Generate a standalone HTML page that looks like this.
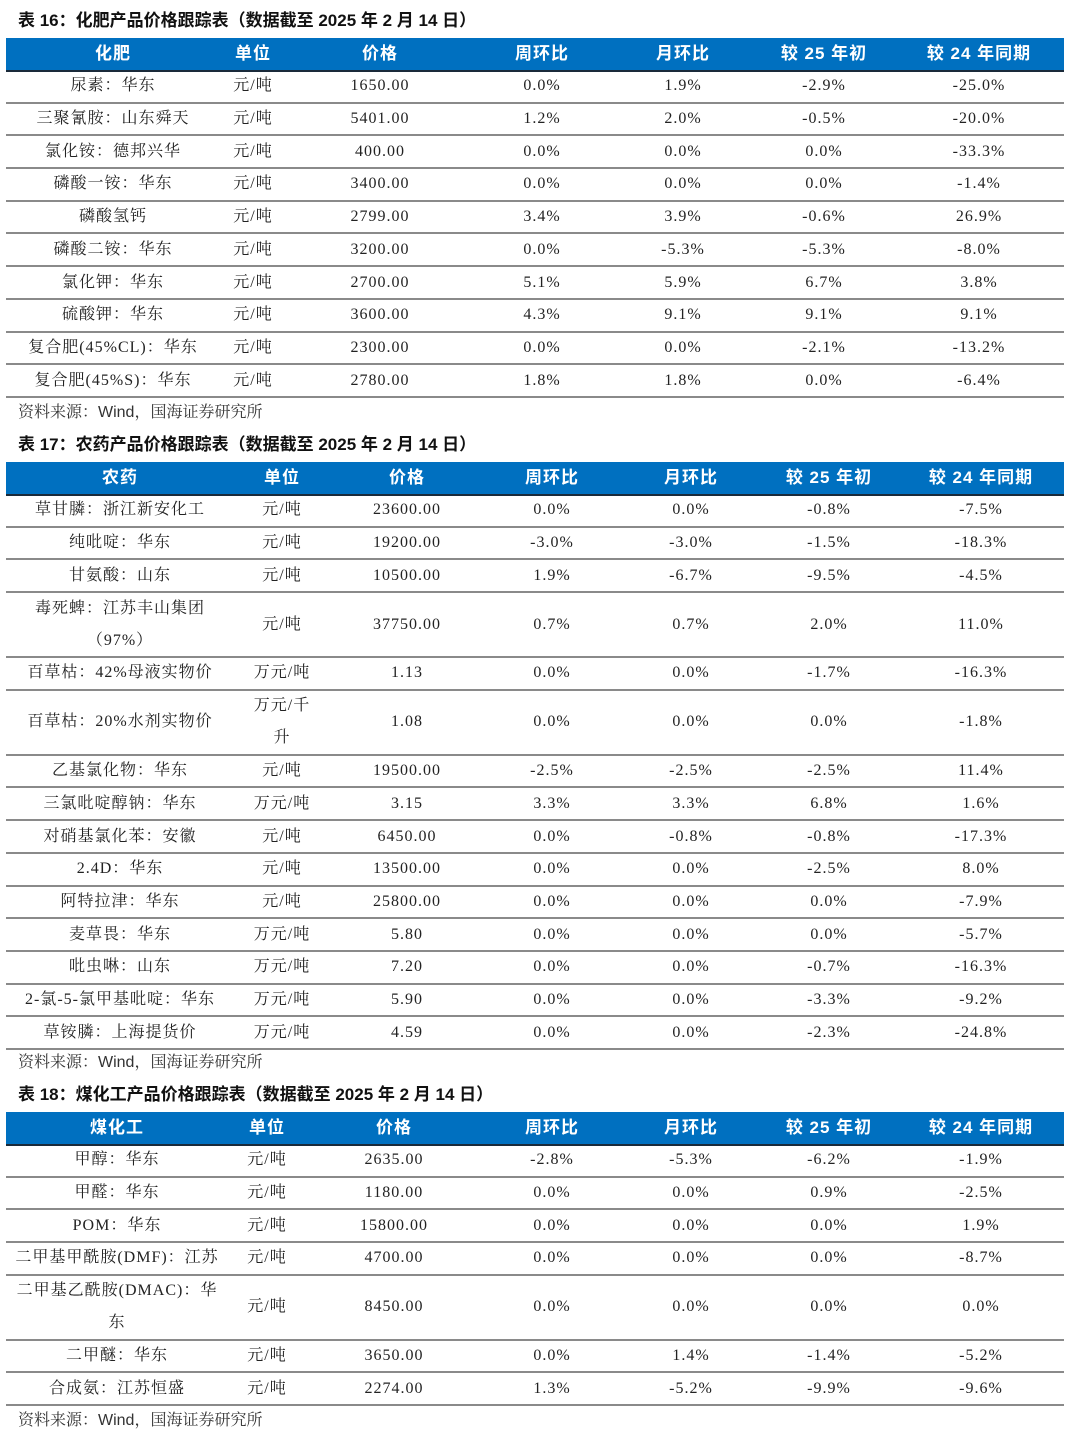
<!DOCTYPE html>
<html><head><meta charset="utf-8">
<style>
html,body{margin:0;padding:0;background:#fff;}
body{width:1080px;height:1447px;position:relative;overflow:hidden;font-family:"Liberation Serif","Noto Serif CJK SC",serif;color:#222;}
.title{position:absolute;left:18px;font-family:"Liberation Sans","Noto Sans CJK SC",sans-serif;font-weight:bold;font-size:17px;line-height:24px;color:#111;}
.src{position:absolute;left:18px;font-family:"Liberation Sans","Noto Serif CJK SC",serif;font-size:16px;line-height:22px;color:#333;}
.hdr{position:absolute;left:6px;width:1058px;background:#0070C0;border-bottom:2px solid #1a2a3a;box-sizing:border-box;}
.row{position:absolute;left:6px;width:1058px;border-bottom:2px solid #8a8a8a;box-sizing:border-box;}
.cell{position:absolute;top:0;bottom:0;display:flex;align-items:center;justify-content:center;text-align:center;transform:translateX(-50%);white-space:nowrap;font-size:16px;line-height:32px;letter-spacing:1px;}
.hdr .cell{color:#fff;font-family:"Liberation Sans","Noto Sans CJK SC",sans-serif;font-weight:bold;font-size:17px;}
</style></head>
<body>
<div class="title" style="top:9px">表 16：化肥产品价格跟踪表（数据截至 2025 年 2 月 14 日）</div>
<div class="src" style="top:402px">资料来源：Wind，国海证券研究所</div>
<div class="title" style="top:433px">表 17：农药产品价格跟踪表（数据截至 2025 年 2 月 14 日）</div>
<div class="src" style="top:1052px">资料来源：Wind，国海证券研究所</div>
<div class="title" style="top:1083px">表 18：煤化工产品价格跟踪表（数据截至 2025 年 2 月 14 日）</div>
<div class="src" style="top:1410px">资料来源：Wind，国海证券研究所</div>
<script>
const tables = [
 {name:'fertilizer', top:38, cols:[113,253,380,542,683,824,979],
  header:['化肥','单位','价格','周环比','月环比','较 25 年初','较 24 年同期'],
  rows:[
   ['尿素：华东','元/吨','1650.00','0.0%','1.9%','-2.9%','-25.0%'],
   ['三聚氰胺：山东舜天','元/吨','5401.00','1.2%','2.0%','-0.5%','-20.0%'],
   ['氯化铵：德邦兴华','元/吨','400.00','0.0%','0.0%','0.0%','-33.3%'],
   ['磷酸一铵：华东','元/吨','3400.00','0.0%','0.0%','0.0%','-1.4%'],
   ['磷酸氢钙','元/吨','2799.00','3.4%','3.9%','-0.6%','26.9%'],
   ['磷酸二铵：华东','元/吨','3200.00','0.0%','-5.3%','-5.3%','-8.0%'],
   ['氯化钾：华东','元/吨','2700.00','5.1%','5.9%','6.7%','3.8%'],
   ['硫酸钾：华东','元/吨','3600.00','4.3%','9.1%','9.1%','9.1%'],
   ['复合肥(45%CL)：华东','元/吨','2300.00','0.0%','0.0%','-2.1%','-13.2%'],
   ['复合肥(45%S)：华东','元/吨','2780.00','1.8%','1.8%','0.0%','-6.4%']]},
 {name:'pesticide', top:462, cols:[120,282,407,552,691,829,981],
  header:['农药','单位','价格','周环比','月环比','较 25 年初','较 24 年同期'],
  rows:[
   ['草甘膦：浙江新安化工','元/吨','23600.00','0.0%','0.0%','-0.8%','-7.5%'],
   ['纯吡啶：华东','元/吨','19200.00','-3.0%','-3.0%','-1.5%','-18.3%'],
   ['甘氨酸：山东','元/吨','10500.00','1.9%','-6.7%','-9.5%','-4.5%'],
   ['毒死蜱：江苏丰山集团<br>（97%）','元/吨','37750.00','0.7%','0.7%','2.0%','11.0%'],
   ['百草枯：42%母液实物价','万元/吨','1.13','0.0%','0.0%','-1.7%','-16.3%'],
   ['百草枯：20%水剂实物价','万元/千<br>升','1.08','0.0%','0.0%','0.0%','-1.8%'],
   ['乙基氯化物：华东','元/吨','19500.00','-2.5%','-2.5%','-2.5%','11.4%'],
   ['三氯吡啶醇钠：华东','万元/吨','3.15','3.3%','3.3%','6.8%','1.6%'],
   ['对硝基氯化苯：安徽','元/吨','6450.00','0.0%','-0.8%','-0.8%','-17.3%'],
   ['2.4D：华东','元/吨','13500.00','0.0%','0.0%','-2.5%','8.0%'],
   ['阿特拉津：华东','元/吨','25800.00','0.0%','0.0%','0.0%','-7.9%'],
   ['麦草畏：华东','万元/吨','5.80','0.0%','0.0%','0.0%','-5.7%'],
   ['吡虫啉：山东','万元/吨','7.20','0.0%','0.0%','-0.7%','-16.3%'],
   ['2-氯-5-氯甲基吡啶：华东','万元/吨','5.90','0.0%','0.0%','-3.3%','-9.2%'],
   ['草铵膦：上海提货价','万元/吨','4.59','0.0%','0.0%','-2.3%','-24.8%']]},
 {name:'coal-chemical', top:1112, cols:[117,267,394,552,691,829,981],
  header:['煤化工','单位','价格','周环比','月环比','较 25 年初','较 24 年同期'],
  rows:[
   ['甲醇：华东','元/吨','2635.00','-2.8%','-5.3%','-6.2%','-1.9%'],
   ['甲醛：华东','元/吨','1180.00','0.0%','0.0%','0.9%','-2.5%'],
   ['POM：华东','元/吨','15800.00','0.0%','0.0%','0.0%','1.9%'],
   ['二甲基甲酰胺(DMF)：江苏','元/吨','4700.00','0.0%','0.0%','0.0%','-8.7%'],
   ['二甲基乙酰胺(DMAC)：华<br>东','元/吨','8450.00','0.0%','0.0%','0.0%','0.0%'],
   ['二甲醚：华东','元/吨','3650.00','0.0%','1.4%','-1.4%','-5.2%'],
   ['合成氨：江苏恒盛','元/吨','2274.00','1.3%','-5.2%','-9.9%','-9.6%']]}
];
const colNames=['name','unit','price','wow','mom','ytd','yoy'];
tables.forEach(t=>{
  const h=document.createElement('div');
  h.className='hdr';
  h.style.top=t.top+'px';h.style.height='34px';
  
  
  t.header.forEach((txt,i)=>{
    const c=document.createElement('div');
    c.className='cell';c.style.left=(t.cols[i]-6)+'px';c.textContent=txt;
    
    
    h.appendChild(c);
  });
  document.body.appendChild(h);
  let y=t.top+33;
  t.rows.forEach((r,ri)=>{
    const tall=r.some(v=>v.indexOf('<br>')>=0);
    const hh=tall?65:32.7;
    const d=document.createElement('div');
    d.className='row';d.style.top=y+'px';d.style.height=hh+'px';
    
    
    r.forEach((txt,i)=>{
      const c=document.createElement('div');
      c.className='cell';c.style.left=(t.cols[i]-6)+'px';c.innerHTML=txt;
      
      
      d.appendChild(c);
    });
    document.body.appendChild(d);
    y+=hh;
  });
});
</script>
</body></html>
